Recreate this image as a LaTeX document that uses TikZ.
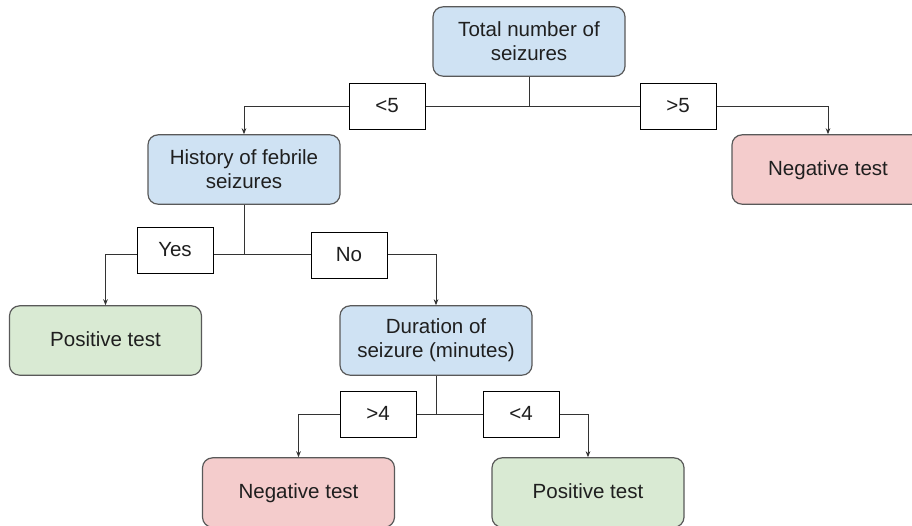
\documentclass[tikz,border=0pt]{standalone}
\usepackage{fontspec}
\setmainfont{Liberation Sans}
\usepackage{tikz}
\usetikzlibrary{arrows.meta, positioning, calc}
\definecolor{TreeBlue}{HTML}{CFE2F3}
\definecolor{TreeRed}{HTML}{F4CCCC}
\definecolor{TreeGreen}{HTML}{D9EAD3}
\definecolor{TreeGray}{HTML}{595959}
\definecolor{TreeLine}{HTML}{333333}

\begin{document}
\begin{tikzpicture}[
    x=0.75pt, y=-0.75pt,
    >={Stealth[length=4.5pt, width=3.5pt]},
    every node/.style={inner sep=3pt, font=\fontsize{15.4}{18}\selectfont, text=black!88},
    question/.style={rectangle, rounded corners=7.5pt, draw=TreeGray, line width=0.9pt,
                     fill=TreeBlue, minimum width=144pt, minimum height=52pt, align=center,
                     text height=2.81em},
    negative/.style={question, fill=TreeRed, text height=0.9em, text depth=0pt},
    positive/.style={question, fill=TreeGreen, text height=0.9em, text depth=0pt},
    cond/.style={rectangle, draw=black, line width=0.75pt, fill=white,
                 minimum width=57pt, minimum height=34.5pt,
                 text height=0.9em, text depth=0pt},
    link/.style={color=TreeLine, line width=0.75pt},
    arr/.style={link, ->}
]
\clip (0,0) rectangle (912,525);

% --- Decision nodes -----------------------------------------------------
\node[question] (total)     at (529,41.5)   {Total number of\\seizures};
\node[question] (history)   at (244,169.5)  {History of febrile\\seizures};
\node[negative] (negtop)    at (828,169.5)  {Negative test};
\node[positive] (posleft)   at (105.5,340.5) {Positive test};
\node[question] (duration)  at (436,340.5)  {Duration of\\seizure (minutes)};
\node[negative] (negbottom) at (298.5,492.5) {Negative test};
\node[positive] (posbottom) at (588,492.5)  {Positive test};

% --- Branch labels ------------------------------------------------------
\node[cond] (lt5) at (387,106) {<5};
\node[cond] (gt5) at (678,106) {>5};
\node[cond] (yes) at (175,250) {Yes};
\node[cond] (no)  at (349,255) {No};
\node[cond] (gt4) at (378,414) {>4};
\node[cond] (lt4) at (521,414) {<4};

% --- Flow ---------------------------------------------------------------
\coordinate (split1) at (total.south |- lt5);
\draw[link] (total) -- (split1);
\draw[link] (split1) -- (lt5);
\draw[link] (split1) -- (gt5);
\draw[arr]  (lt5) -| (history);
\draw[arr]  (gt5) -| (negtop);

\coordinate (split2) at (history.south |- 0,254);
\draw[link] (history) -- (split2);
\draw[link] (split2) -- (split2 -| yes.east);
\draw[link] (split2) -- (split2 -| no.west);
\draw[arr]  (split2 -| yes.west) -| (posleft);
\draw[arr]  (split2 -| no.east) -| (duration);

\coordinate (split3) at (duration.south |- gt4);
\draw[link] (duration) -- (split3);
\draw[link] (split3) -- (gt4);
\draw[link] (split3) -- (lt4);
\draw[arr]  (gt4) -| (negbottom);
\draw[arr]  (lt4) -| (posbottom);

\end{tikzpicture}
\end{document}
